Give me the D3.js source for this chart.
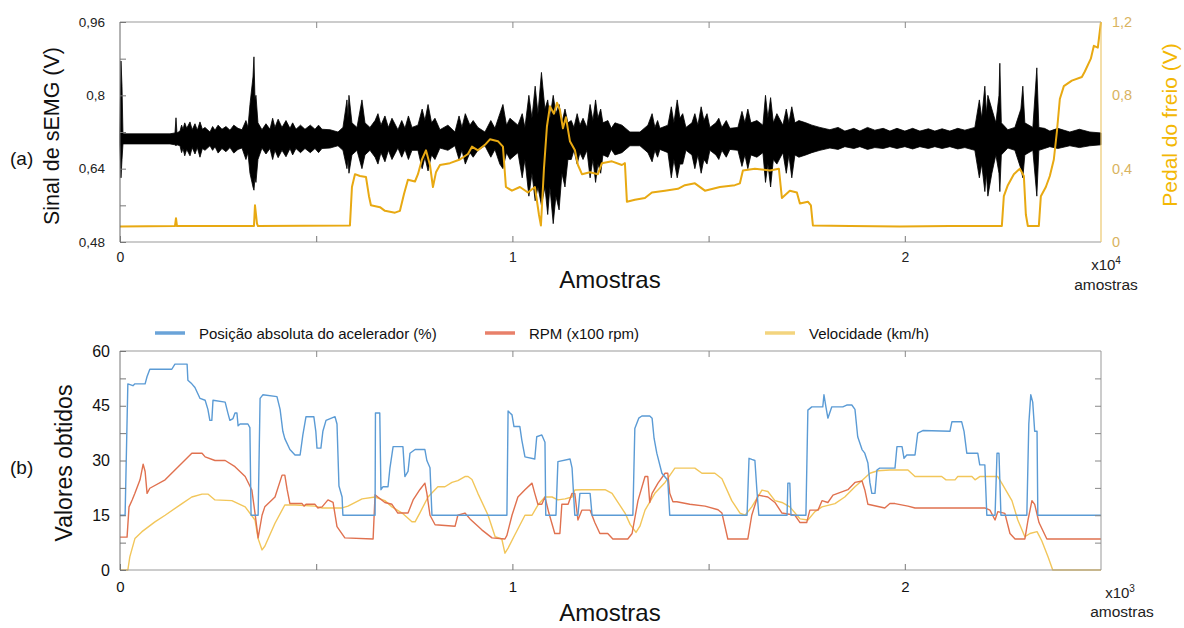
<!DOCTYPE html>
<html><head><meta charset="utf-8">
<script src="https://cdn.jsdelivr.net/npm/d3@7"></script>
<style>body{margin:0;background:#fff}svg{font-family:'Liberation Sans',Arial,sans-serif;display:block}</style>
</head><body>
<svg id="c" width="1184" height="628"></svg>
<script>
// ---------- DATA (a) : sEMG envelope [sample, upper V, lower V] and brake pedal [sample, V]
const emgEnvelope = [[0,.716,.694],[25,.875,.62],[51,.82,.66],[76,.716,.694],[1274,.716,.694],[1401,.718,.692],[1427,.751,.69],[1452,.718,.692],
[1529,.722,.69],[1570,.735,.675],[1605,.726,.684],[1650,.74,.668],[1700,.728,.682],[1784,.742,.668],[1840,.725,.686],[1911,.738,.672],[1970,.724,.686],[2038,.742,.665],[2100,.726,.684],[2166,.73,.68],[2293,.72,.69],[2360,.732,.68],[2421,.724,.688],[2500,.735,.674],[2599,.726,.684],[2700,.732,.677],[2803,.724,.686],[2900,.735,.674],[3007,.728,.682],[3109,.725,.685],
[3210,.745,.66],[3260,.73,.675],[3312,.78,.63],[3389,.84,.6],[3414,.884,.593],[3440,.79,.62],[3465,.80,.61],[3516,.74,.66],
[3618,.725,.685],[3720,.738,.672],[3822,.726,.684],[3890,.75,.66],[3949,.73,.68],[4030,.748,.664],[4128,.73,.68],[4230,.745,.666],[4332,.728,.684],[4400,.74,.67],[4484,.726,.684],[4600,.735,.675],[4714,.726,.684],[4850,.735,.675],[4969,.726,.684],[5060,.735,.675],[5147,.726,.684],[5351,.725,.685],[5555,.72,.69],
[5682,.73,.68],[5784,.79,.64],[5810,.75,.66],[5835,.80,.63],[5911,.74,.67],[6039,.73,.68],[6166,.79,.64],[6243,.74,.67],[6370,.73,.68],
[6500,.745,.665],[6574,.76,.65],[6650,.735,.675],[6752,.755,.655],[6840,.73,.68],[6931,.75,.66],[7083,.725,.685],[7180,.745,.665],[7262,.728,.682],[7350,.755,.66],[7440,.73,.68],[7593,.735,.68],[7700,.77,.64],[7771,.745,.665],[7850,.78,.635],[7940,.74,.67],[8026,.75,.66],[8154,.725,.685],
[8357,.735,.68],[8536,.72,.69],[8640,.755,.66],[8714,.73,.68],[8800,.76,.65],[8918,.735,.675],[9000,.745,.665],[9122,.73,.68],[9300,.72,.69],[9450,.745,.665],[9555,.728,.682],[9680,.76,.65],[9759,.78,.64],[9850,.735,.675],[9937,.75,.66],[10141,.735,.675],
[10250,.76,.62],[10319,.73,.66],[10420,.80,.58],[10498,.75,.63],[10580,.82,.57],[10651,.76,.6],[10740,.85,.56],[10829,.77,.6],[10900,.79,.54],[10956,.75,.6],[11040,.80,.52],[11109,.76,.58],[11190,.78,.55],[11262,.74,.63],[11340,.77,.60],[11415,.74,.66],[11500,.745,.66],[11568,.73,.68],
[11650,.76,.65],[11721,.735,.675],[11800,.75,.66],[11899,.73,.68],[11980,.78,.62],[12052,.745,.66],[12120,.79,.61],[12179,.75,.65],[12250,.77,.63],[12307,.74,.67],[12434,.745,.665],[12520,.728,.682],[12613,.74,.67],[12791,.735,.675],[12995,.72,.69],
[13250,.72,.69],[13453,.735,.675],[13560,.76,.655],[13632,.73,.68],[13700,.745,.665],[13759,.728,.682],[13963,.735,.675],[14050,.775,.62],[14116,.74,.66],[14200,.79,.62],[14269,.75,.65],[14340,.76,.65],[14422,.73,.68],[14575,.74,.67],[14650,.76,.64],[14727,.735,.67],[14810,.775,.63],[14880,.745,.66],[14960,.76,.65],[15033,.73,.68],[15186,.74,.67],[15260,.75,.66],[15339,.73,.68],[15450,.745,.665],[15543,.728,.682],[15747,.73,.68],
[15850,.765,.645],[15925,.74,.67],[16000,.77,.64],[16078,.74,.67],[16231,.745,.665],[16384,.735,.675],[16450,.80,.61],[16511,.75,.65],[16580,.795,.60],[16650,.74,.66],[16740,.76,.65],[16893,.735,.675],[16980,.77,.63],[17046,.74,.67],[17120,.775,.62],[17200,.74,.67],[17301,.745,.665],[17479,.74,.67],[17632,.735,.675],[17836,.73,.68],
[18091,.725,.685],[18300,.73,.682],[18473,.722,.688],[18700,.728,.684],[18855,.722,.688],[19050,.73,.682],[19237,.724,.686],[19450,.728,.684],[19620,.722,.688],[19800,.728,.684],[20002,.722,.688],[20200,.728,.683],[20384,.722,.688],[20600,.727,.684],[20766,.722,.688],[20950,.727,.684],[21148,.722,.688],[21350,.728,.683],[21531,.724,.686],
[21785,.73,.68],[21900,.79,.62],[21960,.75,.65],[22040,.82,.59],[22080,.76,.63],[22117,.80,.58],[22219,.77,.63],[22321,.74,.67],[22400,.80,.63],[22422,.87,.59],[22460,.74,.67],[22626,.725,.685],[22805,.73,.68],[22958,.77,.64],[23008,.82,.62],[23059,.74,.67],[23263,.73,.68],[23365,.86,.58],[23416,.73,.68],
[23560,.728,.684],[23696,.722,.688],[23900,.728,.684],[24206,.72,.69],[24450,.726,.686],[24716,.72,.69],[25000,.718,.692]];

const brakePedal = [[0,0.085],[1401,0.087],[1427,0.13],[1452,0.087],[3414,0.087],[3440,0.2],[3491,0.1],[3516,0.087],[5860,0.09],[5911,0.3],[5988,0.37],[6115,0.36],[6268,0.355],[6345,0.25],[6395,0.2],[6625,0.19],[6752,0.17],[7007,0.16],[7134,0.17],[7236,0.26],[7338,0.34],[7517,0.33],[7593,0.37],[7695,0.45],[7797,0.5],[7899,0.42],[7975,0.3],[8052,0.38],[8154,0.42],[8408,0.43],[8663,0.45],[8867,0.48],[8969,0.52],[9122,0.5],[9300,0.53],[9428,0.56],[9631,0.55],[9759,0.52],[9835,0.3],[9988,0.28],[10192,0.3],[10396,0.27],[10574,0.3],[10676,0.15],[10727,0.09],[10804,0.4],[10880,0.63],[10956,0.74],[11058,0.7],[11135,0.76],[11211,0.72],[11288,0.62],[11364,0.68],[11466,0.55],[11594,0.5],[11670,0.42],[11772,0.37],[11976,0.38],[12179,0.37],[12281,0.43],[12536,0.44],[12791,0.42],[12867,0.43],[12918,0.22],[13122,0.23],[13377,0.24],[13555,0.27],[13887,0.28],[14218,0.29],[14396,0.31],[14651,0.32],[14906,0.28],[15288,0.3],[15670,0.31],[15798,0.32],[15874,0.39],[16180,0.4],[16562,0.39],[16791,0.4],[16868,0.24],[17070,0.28],[17250,0.27],[17326,0.21],[17530,0.22],[17607,0.2],[17658,0.09],[18600,0.087],[19874,0.085],[21148,0.087],[22473,0.087],[22524,0.25],[22626,0.31],[22779,0.37],[22932,0.4],[23034,0.36],[23085,0.15],[23136,0.087],[23416,0.087],[23467,0.25],[23594,0.3],[23696,0.36],[23798,0.45],[23875,0.6],[23951,0.78],[24053,0.85],[24257,0.88],[24512,0.9],[24588,0.93],[24741,1.0],[24818,1.07],[24919,1.06],[24970,1.15],[25000,1.2]];

const emgTicks = [0.48,0.56,0.64,0.72,0.80,0.88,0.96];
const emgTickLabels = ["0,48","","0,64","","0,8","","0,96"];
const pedalTicks = [0,0.4,0.8,1.2];
const pedalTickLabels = ["0","0,4","0,8","1,2"];
const topXTicks = [0,5000,10000,15000,20000];
const topXTickLabels = ["0","","1","","2"];

// ---------- DATA (b) : OBD values [sample, value]
const throttle = [[0,15],[13,15],[20,51],[33,50.5],[38,51],[64,51],[69,53],[76,55],[132,55],[140,56.4],[171,56.4],[173,52],[183,51],[191,50],[204,47],[217,46.5],[224,44],[229,41],[234,41],[237,46.5],[268,46],[275,43],[280,41],[288,41.5],[293,43],[298,43],[301,39.5],[306,40],[326,40],[331,39],[334,15],[352,15],[357,47],[364,48],[400,47.5],[408,44],[415,38],[420,36],[433,33],[446,31.5],[459,31.5],[466,37],[474,42],[494,42],[499,38],[502,33.4],[512,33.4],[517,38],[525,41],[548,42],[553,40],[558,23],[566,20],[568,15],[650,15],[651,43],[662,43],[665,22],[670,22.8],[683,22.8],[688,28],[696,33.8],[721,33.8],[726,25.6],[734,27],[739,32],[752,33],[777,33],[782,30],[790,28],[795,15],[986,15],[989,43.6],[994,43],[999,42.5],[1004,39.3],[1019,39.3],[1024,35.6],[1032,31],[1057,30.4],[1062,36.5],[1075,37],[1083,35],[1085,15],[1111,15],[1116,29.7],[1147,30.4],[1152,28],[1159,15],[1167,15],[1172,21],[1198,21],[1203,15],[1307,15],[1312,38.8],[1322,41.6],[1330,42.2],[1350,42.2],[1356,41.6],[1361,36.1],[1368,32],[1381,26.5],[1396,24.6],[1401,15],[1598,15],[1603,30.6],[1610,30.3],[1618,30],[1623,22],[1628,15],[1700,15],[1702,23.8],[1707,23.8],[1710,15],[1748,15],[1753,43.8],[1763,44.7],[1791,44.7],[1794,48],[1799,44.7],[1804,41.6],[1814,44.7],[1842,44.7],[1852,45.2],[1865,45.2],[1873,44],[1880,36.5],[1891,33],[1898,32],[1906,29.3],[1911,24],[1916,21],[1924,21],[1929,27.4],[1936,27.9],[1975,27.9],[1980,33.8],[1993,33.8],[1998,30.6],[2005,31.5],[2026,31.5],[2033,37.5],[2046,38.2],[2115,38],[2120,40.6],[2145,40.6],[2151,38],[2158,32],[2186,32],[2191,28.8],[2204,28.8],[2209,15],[2230,15],[2235,32],[2240,32],[2245,15],[2311,15],[2316,40],[2321,48],[2326,46],[2331,38],[2337,38],[2339,15],[2500,15]];

const rpm = [[0,9],[18,9],[23,17.3],[31,19.2],[38,21],[51,24.7],[59,29],[64,27],[69,21],[76,22.4],[115,24.7],[158,29.3],[183,32],[209,32],[217,31],[242,30],[268,30],[293,28.3],[319,25.6],[336,21.9],[344,15.6],[352,8.8],[362,15],[369,17.3],[395,20],[413,26],[420,26],[426,22],[433,18.2],[464,18.2],[469,17.5],[474,18],[497,18],[504,17],[515,17.3],[530,19.2],[543,18.5],[553,11.9],[573,8.8],[645,8.5],[650,20.6],[657,20],[675,18.5],[693,18],[708,15.6],[734,15.6],[747,19.2],[764,22],[777,23.8],[782,21],[790,15],[803,12.4],[854,12],[861,15],[879,15.6],[892,14],[922,11],[948,8.8],[981,8.5],[986,9.5],[999,15],[1014,20],[1032,22],[1050,23.8],[1057,21],[1065,18],[1075,18],[1083,20],[1093,15.6],[1108,10],[1121,10],[1126,18],[1142,18],[1152,21],[1159,21],[1167,13.7],[1177,16.4],[1198,16.4],[1210,13],[1223,10],[1243,10],[1256,8.5],[1294,8.5],[1305,10],[1320,19],[1338,25.6],[1345,25.6],[1350,18.5],[1356,21],[1371,23.8],[1389,26.5],[1396,26.5],[1401,21],[1409,18.7],[1419,18.7],[1452,18],[1491,17.5],[1524,16.5],[1534,15.6],[1549,8.5],[1600,8.5],[1610,15],[1626,20.5],[1651,20],[1669,18.5],[1687,15.6],[1720,15],[1733,13],[1750,13],[1758,16.4],[1779,16.4],[1789,19],[1804,18.5],[1817,20.5],[1855,22],[1873,24],[1891,24.4],[1898,22],[1906,18],[1949,17],[1962,18.2],[1975,18.2],[2008,17.5],[2026,17],[2204,17],[2217,16.4],[2230,13.7],[2237,16],[2255,15.5],[2268,10],[2281,8.5],[2306,8.5],[2314,13.7],[2324,19],[2331,18],[2342,13],[2362,8.5],[2500,8.5]];

const speed = [[0,0],[20,0],[25,3.6],[38,8.6],[56,10.5],[89,13.2],[115,15],[158,18.2],[183,20],[209,20.8],[224,20.8],[242,19.2],[285,19],[319,17.3],[344,13.7],[352,8.6],[362,5.5],[369,6.5],[395,12.8],[420,17.8],[446,17.8],[497,17.5],[515,17],[566,17],[581,17.5],[617,19.5],[650,20],[675,19],[693,17.3],[719,15.6],[744,13.2],[752,13.2],[764,15.6],[785,20],[810,22.8],[828,22.8],[846,24],[861,24.5],[879,25.6],[887,25.6],[897,24.8],[912,21],[938,15],[956,9.1],[973,8.5],[981,4.6],[989,6],[1006,9.6],[1032,15],[1050,15],[1065,17.8],[1083,20],[1101,20],[1116,19.2],[1134,19.5],[1152,20],[1159,21.9],[1177,22],[1236,22],[1254,21],[1269,18.5],[1287,15.6],[1300,12.5],[1315,10.3],[1325,12],[1338,16.4],[1363,21],[1389,24],[1414,27.9],[1465,27.9],[1483,26.5],[1516,26.5],[1534,25],[1559,19],[1580,15.6],[1593,15],[1610,17.3],[1636,21.9],[1651,21.5],[1669,19],[1687,18.5],[1707,17.3],[1733,14],[1753,13.7],[1771,16],[1789,17.3],[1822,18.2],[1847,20],[1873,22.8],[1891,24.5],[1911,26.5],[1931,27.2],[1962,27.4],[2008,27.4],[2026,25.6],[2094,25.6],[2105,24.7],[2128,24.7],[2135,25.6],[2171,25.6],[2179,24.7],[2191,25.6],[2237,25.6],[2247,23.8],[2273,19],[2288,13.7],[2306,9.1],[2319,10],[2337,10.5],[2349,8],[2365,3.6],[2377,0],[2500,0]];

const obdTicks = [0,7.5,15,22.5,30,37.5,45,52.5,60];
const obdTickLabels = ["0","","15","","30","","45","","60"];
const botXTicks = [0,500,1000,1500,2000];
const botXTickLabels = ["0","","1","","2"];
const legendNames = ["Posição absoluta do acelerador (%)","RPM (x100 rpm)","Velocidade (km/h)"];
const legendColors = ["#6aa3d8","#e8806a","#f3d47e"];

// ---------- DRAW
const svg = d3.select("#c");
const noDomain = g => g.select(".domain").remove();
const FONT = "'Liberation Sans',Arial,sans-serif";

// ===== (a)
const xT = d3.scaleLinear().domain([0,25000]).range([120,1101]);
const yE = d3.scaleLinear().domain([0.48,0.96]).range([242,22]);
const yP = d3.scaleLinear().domain([0,1.2]).range([242,22]);
const gA = svg.append("g");

gA.append("path").datum(emgEnvelope)
  .attr("d", d3.area().x(d=>xT(d[0])).y0(d=>yE(d[2])).y1(d=>yE(d[1])))
  .attr("fill","#000").attr("stroke","#000").attr("stroke-width",0.8).attr("stroke-linejoin","miter");

gA.append("path").datum(brakePedal)
  .attr("d", d3.line().x(d=>xT(d[0])).y(d=>yP(d[1])))
  .attr("fill","none").attr("stroke","#e8a912").attr("stroke-width",2).attr("stroke-linejoin","round");

// frame
gA.append("line").attr("x1",xT(0)).attr("x2",xT(25000)).attr("y1",yE(0.96)).attr("y2",yE(0.96)).attr("stroke","#999");
gA.append("line").attr("x1",xT(0)).attr("x2",xT(25000)).attr("y1",yE(0.48)).attr("y2",yE(0.48)).attr("stroke","#999");
gA.append("line").attr("x1",xT(0)).attr("x2",xT(0)).attr("y1",yE(0.48)).attr("y2",yE(0.96)).attr("stroke","#666");
gA.append("line").attr("x1",xT(25000)).attr("x2",xT(25000)).attr("y1",yE(0.48)).attr("y2",yE(0.96)).attr("stroke","#ecc870").attr("stroke-width",1.2);

const axL = gA.append("g").attr("transform",`translate(${xT(0)},0)`)
  .call(d3.axisLeft(yE).tickValues(emgTicks).tickSize(-6).tickPadding(15).tickFormat((d,i)=>emgTickLabels[i]))
  .call(noDomain);
axL.selectAll("line").attr("stroke","#777");
axL.selectAll("text").attr("font-size",13.5).attr("fill","#222").attr("font-family",FONT);

const axR = gA.append("g").attr("transform",`translate(${xT(25000)},0)`)
  .call(d3.axisRight(yP).tickValues(pedalTicks).tickSize(0).tickPadding(11).tickFormat((d,i)=>pedalTickLabels[i]))
  .call(noDomain);
axR.selectAll("text").attr("font-size",14.5).attr("fill","#d9b35f").attr("font-family",FONT);

const axB = gA.append("g").attr("transform",`translate(0,${yE(0.48)})`)
  .call(d3.axisBottom(xT).tickValues(topXTicks).tickSize(-6).tickPadding(10).tickFormat((d,i)=>topXTickLabels[i]))
  .call(noDomain);
axB.selectAll("line").attr("stroke","#777");
axB.selectAll("text").attr("font-size",14).attr("fill","#222").attr("font-family",FONT);

const axTp = gA.append("g").attr("transform",`translate(0,${yE(0.96)})`)
  .call(d3.axisTop(xT).tickValues(topXTicks.slice(1)).tickSize(-6).tickFormat(""))
  .call(noDomain);
axTp.selectAll("line").attr("stroke","#888");

gA.append("text").attr("transform","translate(59,136) rotate(-90)").attr("text-anchor","middle")
  .attr("font-size",21.5).attr("fill","#111").text("Sinal de sEMG (V)");
gA.append("text").attr("x",10).attr("y",165).attr("font-size",19).attr("fill","#111").text("(a)");
gA.append("text").attr("transform","translate(1177,125) rotate(-90)").attr("text-anchor","middle")
  .attr("font-size",21).attr("fill","#f3b705").text("Pedal do freio (V)");
gA.append("text").attr("x",610).attr("y",288).attr("text-anchor","middle").attr("font-size",24).attr("fill","#111").text("Amostras");
const e4 = gA.append("text").attr("x",1106).attr("y",270).attr("text-anchor","middle").attr("font-size",15).attr("fill","#222");
e4.append("tspan").text("x10");
e4.append("tspan").attr("dy",-6).attr("font-size",10).text("4");
gA.append("text").attr("x",1106).attr("y",290).attr("text-anchor","middle").attr("font-size",15.5).attr("fill","#222").text("amostras");

// ===== (b)
const xB = d3.scaleLinear().domain([0,2500]).range([120,1101]);
const yB = d3.scaleLinear().domain([0,60]).range([570,351]);
const gB = svg.append("g");

const line = d3.line().x(d=>xB(d[0])).y(d=>yB(d[1]));
[[speed,"#f2c65a"],[rpm,"#e0714f"],[throttle,"#5b9bd5"]].forEach(([s,c])=>{
  gB.append("path").datum(s).attr("d",line).attr("fill","none").attr("stroke",c).attr("stroke-width",1.4).attr("stroke-linejoin","round");
});

gB.append("line").attr("x1",xB(0)).attr("x2",xB(2500)).attr("y1",yB(60)).attr("y2",yB(60)).attr("stroke","#999");
gB.append("line").attr("x1",xB(0)).attr("x2",xB(2500)).attr("y1",yB(0)).attr("y2",yB(0)).attr("stroke","#999");
gB.append("line").attr("x1",xB(0)).attr("x2",xB(0)).attr("y1",yB(0)).attr("y2",yB(60)).attr("stroke","#777");
gB.append("line").attr("x1",xB(2500)).attr("x2",xB(2500)).attr("y1",yB(0)).attr("y2",yB(60)).attr("stroke","#999");

const bL = gB.append("g").attr("transform",`translate(${xB(0)},0)`)
  .call(d3.axisLeft(yB).tickValues(obdTicks).tickSize(-6).tickPadding(10).tickFormat((d,i)=>obdTickLabels[i]))
  .call(noDomain);
bL.selectAll("line").attr("stroke","#777");
bL.selectAll("text").attr("font-size",16).attr("fill","#111").attr("font-family",FONT);

const bR = gB.append("g").attr("transform",`translate(${xB(2500)},0)`)
  .call(d3.axisRight(yB).tickValues(obdTicks.slice(1,-1)).tickSize(-6).tickFormat(""))
  .call(noDomain);
bR.selectAll("line").attr("stroke","#888");

const bB = gB.append("g").attr("transform",`translate(0,${yB(0)})`)
  .call(d3.axisBottom(xB).tickValues(botXTicks).tickSize(-6).tickPadding(11).tickFormat((d,i)=>botXTickLabels[i]))
  .call(noDomain);
bB.selectAll("line").attr("stroke","#777");
bB.selectAll("text").attr("font-size",15).attr("fill","#111").attr("font-family",FONT);

const bT = gB.append("g").attr("transform",`translate(0,${yB(60)})`)
  .call(d3.axisTop(xB).tickValues(botXTicks.slice(1)).tickSize(-6).tickFormat(""))
  .call(noDomain);
bT.selectAll("line").attr("stroke","#888");

// legend
const legX = [155,485,765];
legendNames.forEach((n,i)=>{
  gB.append("line").attr("x1",legX[i]).attr("x2",legX[i]+30).attr("y1",333).attr("y2",333)
    .attr("stroke",legendColors[i]).attr("stroke-width",3.5);
  gB.append("text").attr("x",legX[i]+44).attr("y",338.5).attr("font-size",15).attr("fill","#111").text(n);
});

gB.append("text").attr("transform","translate(72,463) rotate(-90)").attr("text-anchor","middle")
  .attr("font-size",23).attr("fill","#111").text("Valores obtidos");
gB.append("text").attr("x",10).attr("y",474).attr("font-size",19).attr("fill","#111").text("(b)");
gB.append("text").attr("x",610).attr("y",621).attr("text-anchor","middle").attr("font-size",24).attr("fill","#111").text("Amostras");
const e3 = gB.append("text").attr("x",1120).attr("y",598).attr("text-anchor","middle").attr("font-size",15).attr("fill","#222");
e3.append("tspan").text("x10");
e3.append("tspan").attr("dy",-6).attr("font-size",10).text("3");
gB.append("text").attr("x",1122).attr("y",617).attr("text-anchor","middle").attr("font-size",15.5).attr("fill","#222").text("amostras");
</script>
</body></html>
